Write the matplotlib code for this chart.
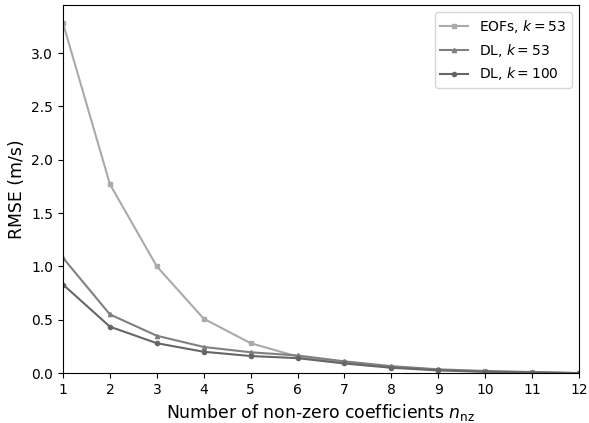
import numpy as np
import matplotlib.pyplot as plt

nnz = np.arange(1, 13)
eofs_53 = [3.28, 1.77, 1.00, 0.51, 0.28, 0.155, 0.10, 0.06, 0.03, 0.015, 0.006, 0.0]
dl_53 = [1.08, 0.55, 0.35, 0.245, 0.195, 0.165, 0.11, 0.065, 0.035, 0.02, 0.01, 0.0]
dl_100 = [0.83, 0.435, 0.28, 0.20, 0.16, 0.14, 0.09, 0.05, 0.025, 0.012, 0.005, 0.0]

fig = plt.figure(figsize=(5.89, 4.23), dpi=100)
ax = fig.add_axes([0.107, 0.118, 0.876, 0.870])

ax.plot(nnz, eofs_53, '-s', color='#aaaaaa', ms=3, lw=1.5, label=r'EOFs, $k = 53$')
ax.plot(nnz, dl_53, '-^', color='#808080', ms=3, lw=1.5, label=r'DL, $k = 53$')
ax.plot(nnz, dl_100, '-o', color='#666666', ms=3, lw=1.5, label=r'DL, $k = 100$')

ax.set_xlim(1, 12)
ax.set_ylim(0, 3.45)
ax.set_xticks(nnz)
ax.set_xlabel(r'Number of non-zero coefficients $n_{\mathrm{nz}}$', fontsize=12.4)
ax.set_ylabel('RMSE (m/s)', fontsize=12.4)
ax.legend(loc='upper right')

plt.savefig('out.png')
